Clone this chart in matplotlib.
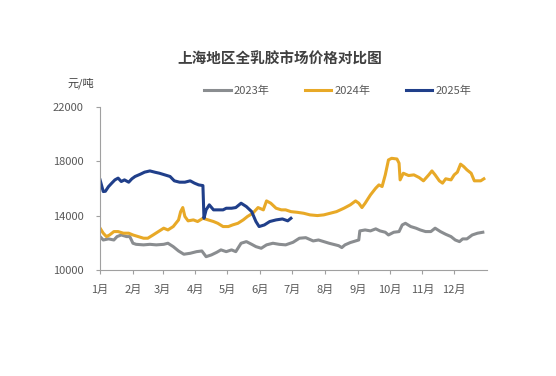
import matplotlib.pyplot as plt

plt.rcParams["font.family"] = ["Noto Sans CJK SC", "DejaVu Sans"]

# day of year -> price (yuan/ton)
day_2023 = [0, 3, 8, 13, 16, 20, 25, 28, 31, 34, 41, 47, 53, 60, 64, 69, 74, 79, 85, 91,
            96, 100, 105, 110, 114, 119, 124, 128, 133, 138, 143, 147, 152, 157, 163, 169,
            175, 182, 188, 194, 201, 206, 211, 216, 220, 225, 228, 231, 236, 241, 244, 245,
            250, 255, 260, 264, 269, 272, 277, 282, 285, 288, 293, 298, 302, 307, 312, 316,
            321, 326, 331, 335, 339, 342, 346, 351, 356, 361]
price_2023 = [12460, 12210, 12290, 12210, 12460, 12580, 12460, 12460, 11970, 11890, 11850,
              11890, 11850, 11890, 11970, 11720, 11400, 11160, 11230, 11350, 11400, 10980,
              11110, 11300, 11480, 11350, 11480, 11350, 11970, 12090, 11890, 11720, 11600,
              11850, 11970, 11890, 11850, 12040, 12340, 12380, 12140, 12210, 12090, 11970,
              11890, 11790, 11650, 11850, 12020, 12140, 12210, 12880, 12950, 12880, 13030,
              12880, 12780, 12580, 12780, 12830, 13320, 13440, 13200, 13080, 12950, 12830,
              12830, 13080, 12830, 12630, 12460, 12210, 12090, 12290, 12290, 12580, 12710,
              12780]

day_2024 = [0, 3, 6, 9, 13, 17, 22, 27, 31, 36, 41, 45, 50, 55, 60, 64, 69, 74, 76, 78,
            80, 83, 88, 92, 97, 102, 107, 111, 116, 121, 125, 130, 135, 139, 144, 149, 154,
            157, 161, 166, 171, 175, 180, 186, 192, 198, 205, 211, 217, 223, 230, 236, 241,
            244, 247, 250, 255, 260, 263, 266, 269, 272, 275, 280, 282, 283, 286, 291, 296,
            301, 305, 310, 313, 316, 320, 323, 326, 331, 334, 337, 340, 343, 346, 350, 353,
            356, 359, 362]
price_2024 = [13080, 12710, 12460, 12580, 12830, 12830, 12710, 12710, 12580, 12460, 12340,
              12340, 12580, 12830, 13080, 12950, 13200, 13690, 14300, 14600, 13940, 13620,
              13690, 13570, 13810, 13690, 13570, 13440, 13200, 13200, 13320, 13440, 13690,
              13940, 14180, 14600, 14430, 15090, 14920, 14550, 14430, 14430, 14300, 14250,
              14180, 14060, 14010, 14060, 14180, 14300, 14550, 14800, 15090, 14920, 14600,
              14920, 15530, 16030, 16270, 16150, 17010, 18110, 18230, 18180, 17870, 16640,
              17130, 16960, 17010, 16810, 16570, 17010, 17300, 17010, 16570, 16400, 16720,
              16640, 17010, 17210, 17800, 17620, 17380, 17130, 16570, 16570, 16570, 16720]

day_2025 = [0, 3, 5, 8, 11, 14, 17, 20, 23, 27, 30, 33, 38, 42, 47, 52, 56, 61, 66, 70,
            75, 80, 85, 89, 93, 97, 98, 100, 103, 107, 111, 116, 119, 124, 128, 133, 138,
            143, 147, 150, 155, 160, 166, 172, 177, 180]
price_2025 = [16640, 15780, 15800, 16150, 16400, 16640, 16770, 16520, 16640, 16470, 16720,
              16890, 17060, 17210, 17300, 17200, 17130, 17010, 16890, 16570, 16470, 16470,
              16570, 16400, 16270, 16220, 13810, 14430, 14800, 14430, 14430, 14430, 14550,
              14550, 14600, 14920, 14670, 14300, 13570, 13200, 13320, 13570, 13690, 13760,
              13620, 13810]

month_start = [0, 31, 59, 90, 120, 151, 181, 212, 243, 273, 304, 334]
month_labels = [f"{m}月" for m in range(1, 13)]
y_ticks = [10000, 14000, 18000, 22000]

series = [
    ("2023年", day_2023, price_2023, "#8a8d90"),
    ("2024年", day_2024, price_2024, "#e8a927"),
    ("2025年", day_2025, price_2025, "#203f8a"),
]

fig = plt.figure(figsize=(5.56, 3.76), dpi=100)
ax = fig.add_axes([0.18, 0.282, 0.696, 0.433])

for label, days, prices, color in series:
    ax.plot(days, prices, color=color, linewidth=2.2, label=label, solid_joinstyle="round")

ax.set_xlim(0, 365)
ax.set_ylim(10000, 22000)
ax.set_xticks(month_start)
ax.set_xticklabels(month_labels)
ax.set_yticks(y_ticks)

for side in ["top", "right"]:
    ax.spines[side].set_visible(False)
for side in ["left", "bottom"]:
    ax.spines[side].set_color("#a0a0a0")
    ax.spines[side].set_linewidth(0.8)
ax.tick_params(axis="both", colors="#a0a0a0", labelcolor="#595959", labelsize=8,
               length=3, width=0.8)
ax.tick_params(axis="y", pad=9)
ax.tick_params(axis="x", pad=8)

fig.text(0.504, 0.843, "上海地区全乳胶市场价格对比图", ha="center", va="center",
         fontsize=10.5, fontweight="bold", color="#404040")
fig.text(0.122, 0.779, "元/吨", ha="left", va="center", fontsize=8, color="#404040")

fig.legend(loc="center", bbox_to_anchor=(0.607, 0.758), ncol=3, frameon=False,
           fontsize=8, handlelength=2.4, handletextpad=0.25, columnspacing=3.2,
           labelcolor="#595959")

fig.savefig("out.png", dpi=100)
